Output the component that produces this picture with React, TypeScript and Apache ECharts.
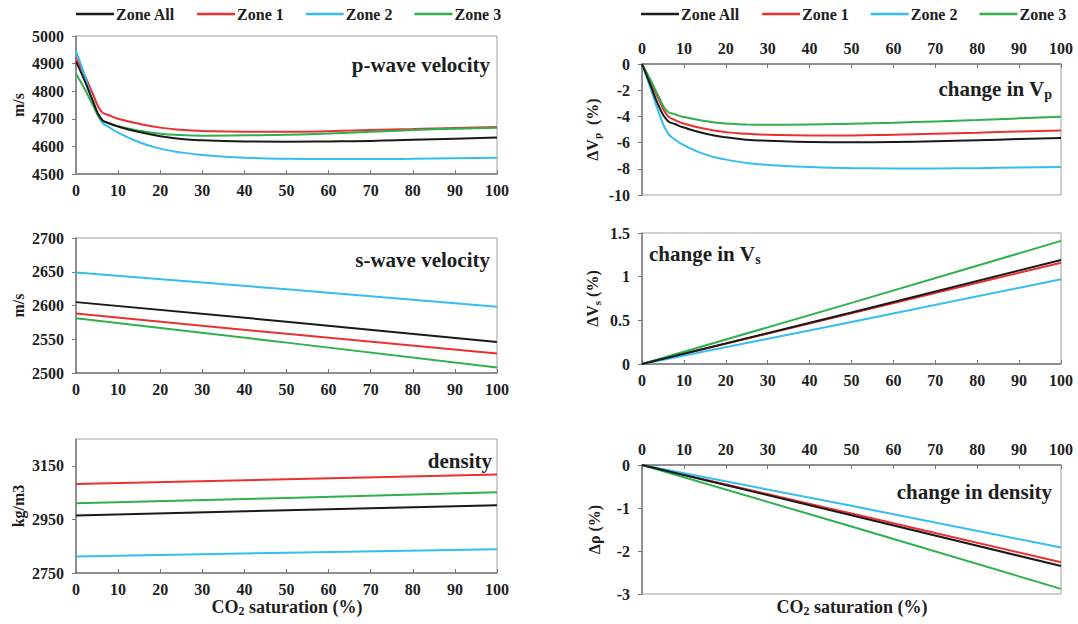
import React, { useEffect, useRef } from "react";
import * as echarts from "echarts";

// CO2 saturation (%) sample positions
const sat = [0, 2, 4, 6, 8, 10, 15, 20, 25, 30, 40, 50, 60, 70, 80, 90, 100];
const satLinear = [0, 50, 100];

const zones = ["Zone All", "Zone 1", "Zone 2", "Zone 3"];
const zoneColors = ["#1a1a1a", "#ec3030", "#35bdf0", "#2eb04c"];

// p-wave velocity (m/s)
const vpAll = [4907, 4840, 4765, 4700, 4683, 4672, 4652, 4637, 4627, 4622, 4618, 4617, 4618, 4620, 4624, 4628, 4632];
const vpZ1 = [4920, 4860, 4790, 4727, 4712, 4700, 4682, 4668, 4660, 4656, 4653, 4653, 4655, 4659, 4663, 4667, 4670];
const vpZ2 = [4945, 4860, 4765, 4690, 4668, 4650, 4615, 4592, 4578, 4569, 4559, 4555, 4554, 4554, 4555, 4557, 4559];
const vpZ3 = [4862, 4810, 4750, 4697, 4683, 4673, 4657, 4646, 4641, 4639, 4640, 4642, 4647, 4653, 4659, 4664, 4668];

// change in Vp (%)
const dvpAll = [0, -1.6, -3.2, -4.3, -4.6, -4.85, -5.3, -5.6, -5.78, -5.85, -5.95, -5.97, -5.95, -5.9, -5.82, -5.73, -5.64];
const dvpZ1 = [0, -1.3, -2.7, -3.9, -4.3, -4.55, -4.95, -5.2, -5.33, -5.4, -5.45, -5.45, -5.4, -5.33, -5.25, -5.15, -5.08];
const dvpZ2 = [0, -1.8, -3.7, -5.2, -5.8, -6.2, -6.9, -7.3, -7.55, -7.7, -7.87, -7.95, -7.97, -7.97, -7.95, -7.9, -7.87];
const dvpZ3 = [0, -1.2, -2.5, -3.6, -3.85, -4.05, -4.35, -4.55, -4.62, -4.63, -4.62, -4.56, -4.48, -4.38, -4.27, -4.15, -4.03];

// s-wave velocity (m/s)
const vsAll = [2605, 2576, 2546];
const vsZ1 = [2588, 2558, 2529];
const vsZ2 = [2649, 2624, 2598];
const vsZ3 = [2581, 2545, 2508];

// change in Vs (%)
const dvsAll = [0, 0.59, 1.19];
const dvsZ1 = [0, 0.58, 1.16];
const dvsZ2 = [0, 0.48, 0.97];
const dvsZ3 = [0, 0.7, 1.41];

// density (kg/m3)
const rhoAll = [2965, 2984, 3003];
const rhoZ1 = [3082, 3100, 3118];
const rhoZ2 = [2812, 2826, 2839];
const rhoZ3 = [3010, 3030, 3051];

// change in density (%)
const drhoAll = [0, -1.17, -2.35];
const drhoZ1 = [0, -1.13, -2.26];
const drhoZ2 = [0, -0.95, -1.92];
const drhoZ3 = [0, -1.43, -2.88];

const densityTicks = [2750, 2950, 3150];

const FONT = '"Liberation Serif", "Times New Roman", serif';
const AXIS_COLOR = "#7a7a7a";
const TEXT_COLOR = "#1e1e1e";

const labelFont = {
  fontFamily: FONT,
  fontWeight: "bold" as const,
  fontSize: 16,
  color: TEXT_COLOR,
  formatter: (v: number) => String(v),
};

const grids = [
  { left: 76, top: 36, width: 421, height: 138 },
  { left: 642, top: 64, width: 419, height: 131 },
  { left: 76, top: 238, width: 421, height: 135 },
  { left: 642, top: 233, width: 419, height: 131 },
  { left: 76, top: 439, width: 421, height: 134 },
  { left: 642, top: 465, width: 419, height: 129 },
];

function xAxisFor(g: number, position: "top" | "bottom") {
  return {
    type: "value",
    gridIndex: g,
    position,
    min: 0,
    max: 100,
    interval: 10,
    axisLine: { show: true, onZero: false, lineStyle: { color: AXIS_COLOR, width: 1.5 } },
    axisTick: { show: true, inside: true, length: 4, lineStyle: { color: AXIS_COLOR } },
    axisLabel: { ...labelFont, margin: 8 },
    splitLine: { show: false },
  };
}

const subRich = {
  sub: { fontFamily: FONT, fontWeight: "bold", fontSize: 11, color: TEXT_COLOR, padding: [8, 0, 0, 0] },
};

function yAxisFor(g: number, min: number, max: number, interval: number, name: string, nameGap: number, extra: any = {}) {
  return {
    type: "value",
    gridIndex: g,
    min,
    max,
    interval,
    name,
    nameLocation: "middle",
    nameRotate: 90,
    nameGap,
    nameTextStyle: {
      fontFamily: FONT,
      fontWeight: "bold",
      fontSize: 16,
      color: TEXT_COLOR,
      rich: subRich,
    },
    axisLine: { show: true, onZero: false, lineStyle: { color: AXIS_COLOR, width: 1.5 } },
    axisTick: { show: true, inside: false, length: 4, lineStyle: { color: AXIS_COLOR } },
    axisLabel: { ...labelFont, margin: 12 },
    splitLine: { show: false },
    ...extra,
  };
}

function panelSeries(g: number, xs: number[], sets: number[][], smooth: boolean) {
  return sets.map((ys, i) => ({
    type: "line",
    name: zones[i],
    xAxisIndex: g,
    yAxisIndex: g,
    data: xs.map((x, j) => [x, ys[j]]),
    symbol: "none",
    smooth: smooth ? 0.5 : false,
    lineStyle: { width: 2, color: zoneColors[i] },
    itemStyle: { color: zoneColors[i] },
    z: i === 0 ? 3 : 2,
  }));
}

const titleFont = `bold 21px ${FONT}`;

function titleText(text: string, x: number, y: number, align: "left" | "right") {
  return {
    type: "text",
    x,
    y,
    z: 10,
    style: {
      text,
      font: titleFont,
      fill: TEXT_COLOR,
      align,
      verticalAlign: "middle",
      rich: {
        sub: { font: `bold 14px ${FONT}`, fill: TEXT_COLOR, padding: [10, 0, 0, 0] },
      },
    },
  };
}

function xTitle(x: number, y: number) {
  return {
    type: "text",
    x,
    y,
    style: {
      text: "CO{sub|2} saturation (%)",
      font: `bold 18px ${FONT}`,
      fill: TEXT_COLOR,
      align: "center",
      verticalAlign: "middle",
      rich: {
        sub: { font: `bold 12px ${FONT}`, fill: TEXT_COLOR, padding: [8, 0, 0, 0] },
      },
    },
  };
}

function legendAt(left: number) {
  return {
    left,
    top: 6,
    data: zones,
    icon: "rect",
    itemWidth: 38,
    itemHeight: 2.5,
    itemGap: 22,
    padding: 0,
    textStyle: { fontFamily: FONT, fontWeight: "bold", fontSize: 16, color: TEXT_COLOR, padding: [0, 0, 0, -3] },
  };
}

export default function App() {
  const ref = useRef<HTMLDivElement>(null);

  useEffect(() => {
    if (!ref.current) return;
    const chart = echarts.init(ref.current, null, { renderer: "svg" });

    const option = {
      animation: false,
      backgroundColor: "#ffffff",
      legend: [legendAt(76), legendAt(641)],
      grid: grids.map((g) => ({ ...g, show: true, borderColor: "#a0a0a0", borderWidth: 1, backgroundColor: "transparent" })),
      xAxis: [
        xAxisFor(0, "bottom"),
        xAxisFor(1, "top"),
        xAxisFor(2, "bottom"),
        xAxisFor(3, "bottom"),
        xAxisFor(4, "bottom"),
        xAxisFor(5, "top"),
      ],
      yAxis: [
        yAxisFor(0, 4500, 5000, 100, "m/s", 50),
        yAxisFor(1, -10, 0, 2, "ΔV{sub|p}  (%)", 40),
        yAxisFor(2, 2500, 2700, 50, "m/s", 50),
        yAxisFor(3, 0, 1.5, 0.5, "ΔV{sub|s} (%)", 40),
        yAxisFor(4, 2750, 3250, 200, "kg/m3", 50, {
          axisTick: { show: true, inside: false, length: 4, lineStyle: { color: AXIS_COLOR }, customValues: densityTicks },
          axisLabel: { ...labelFont, margin: 12, customValues: densityTicks },
        }),
        yAxisFor(5, -3, 0, 1, "Δρ (%)", 40),
      ],
      series: [
        ...panelSeries(0, sat, [vpAll, vpZ1, vpZ2, vpZ3], true),
        ...panelSeries(1, sat, [dvpAll, dvpZ1, dvpZ2, dvpZ3], true),
        ...panelSeries(2, satLinear, [vsAll, vsZ1, vsZ2, vsZ3], false),
        ...panelSeries(3, satLinear, [dvsAll, dvsZ1, dvsZ2, dvsZ3], false),
        ...panelSeries(4, satLinear, [rhoAll, rhoZ1, rhoZ2, rhoZ3], false),
        ...panelSeries(5, satLinear, [drhoAll, drhoZ1, drhoZ2, drhoZ3], false),
      ],
      graphic: [
        titleText("p-wave velocity", 490, 65, "right"),
        titleText("change in V{sub|p}", 1052, 89, "right"),
        titleText("s-wave velocity", 490, 260, "right"),
        titleText("change in V{sub|s}", 649, 254, "left"),
        titleText("density", 492, 461, "right"),
        titleText("change in density", 1052, 492, "right"),
        xTitle(287, 607),
        xTitle(852, 607),
      ],
    };

    chart.setOption(option as any);
    return () => chart.dispose();
  }, []);

  return (
    <div
      ref={ref}
      style={{ position: "absolute", left: 0, top: 0, width: 1078, height: 624 }}
    />
  );
}
